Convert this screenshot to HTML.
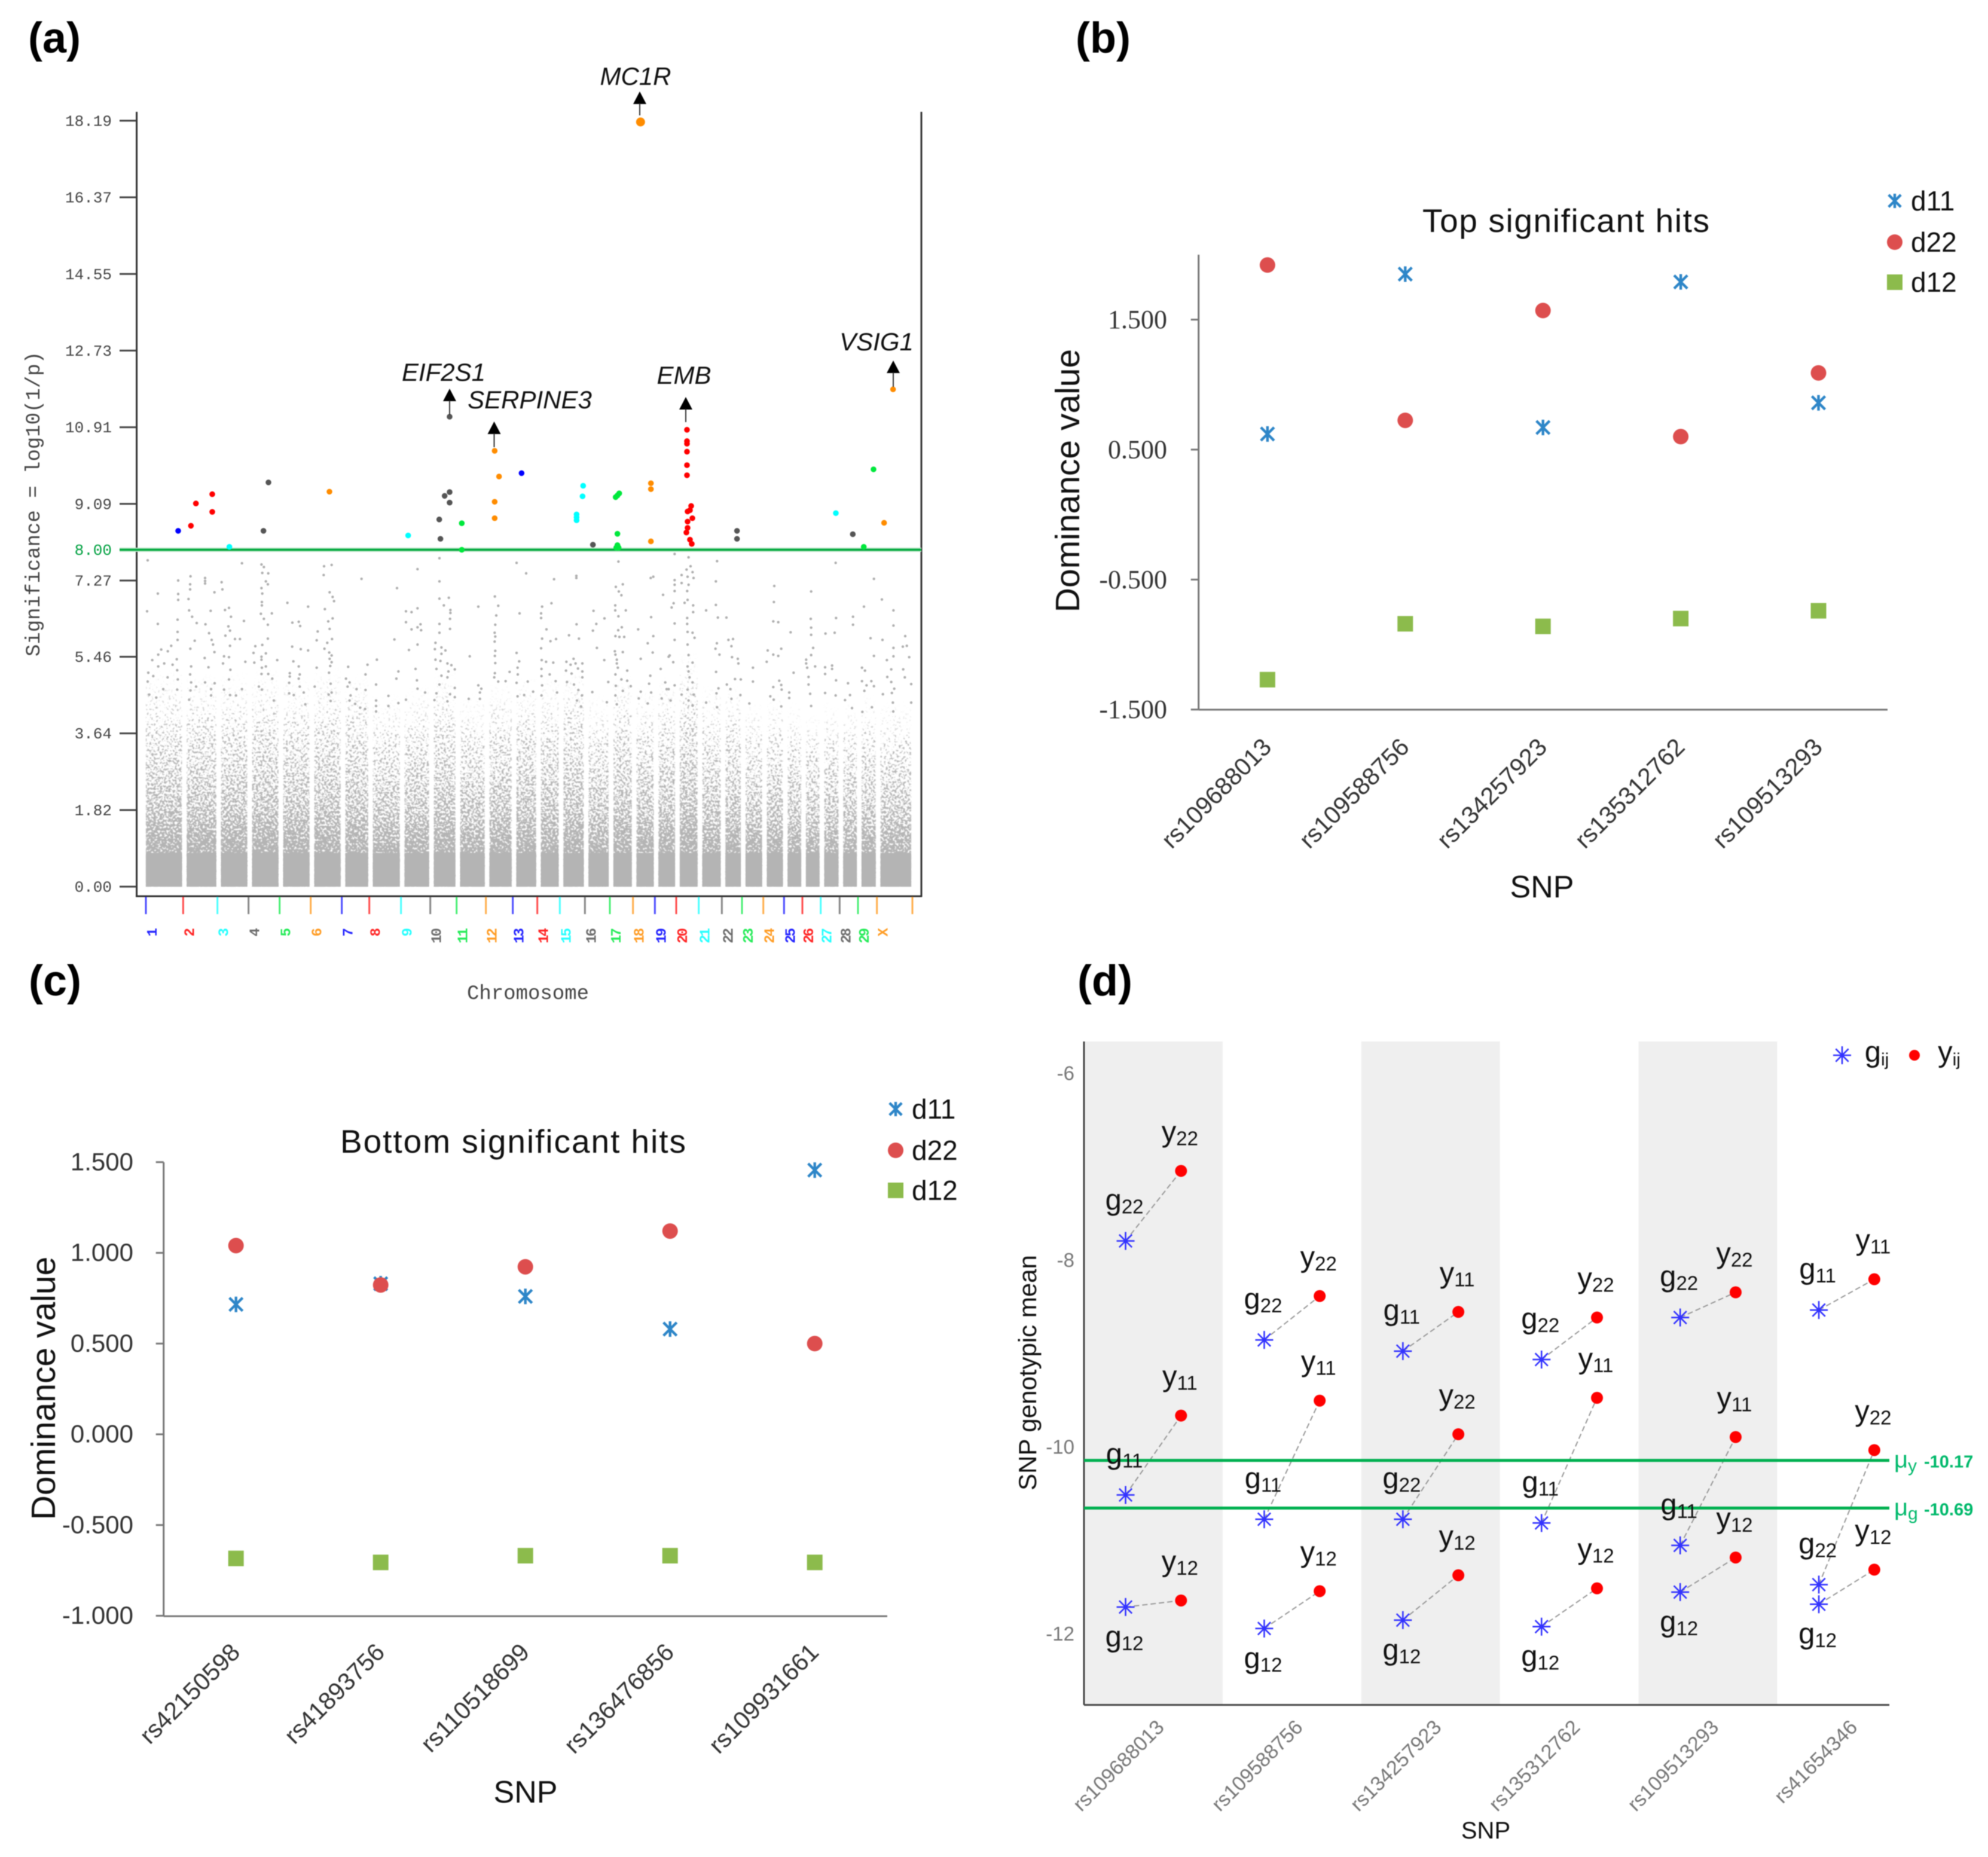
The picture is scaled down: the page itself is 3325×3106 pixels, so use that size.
<!DOCTYPE html>
<html lang="en">
<head>
<meta charset="utf-8">
<title>GWAS significance and dominance panels</title>
<style>
html,body{margin:0;padding:0;background:#fff}
svg{display:block;filter:blur(0.7px)}
text{font-family:"Liberation Sans",sans-serif}
.mono{font-family:"Liberation Mono",monospace}
.panel{font-weight:bold;font-size:72px;fill:#000}
.gene{font-style:italic;font-size:42px;fill:#111}
</style>
</head>
<body>
<svg id="figure" xmlns="http://www.w3.org/2000/svg" width="3325" height="3106" viewBox="0 0 3325 3106">
  <defs>
    <linearGradient id="densityGrad" x1="0" y1="0" x2="0" y2="1">
      <stop offset="0" stop-color="#000" stop-opacity="0"/>
      <stop offset="0.04" stop-color="#000" stop-opacity="0.03"/>
      <stop offset="0.17" stop-color="#000" stop-opacity="0.14"/>
      <stop offset="0.3" stop-color="#000" stop-opacity="0.32"/>
      <stop offset="0.65" stop-color="#000" stop-opacity="0.63"/>
      <stop offset="0.81" stop-color="#000" stop-opacity="0.92"/>
      <stop offset="0.9" stop-color="#000" stop-opacity="1"/>
      <stop offset="1" stop-color="#000" stop-opacity="1"/>
    </linearGradient>
    <filter id="speckle" filterUnits="userSpaceOnUse" x="228" y="900" width="1320" height="600" color-interpolation-filters="sRGB">
      <feTurbulence type="fractalNoise" baseFrequency="0.28" numOctaves="2" seed="7" result="t"/>
      <feColorMatrix in="t" type="matrix" values="0 0 0 0 0  0 0 0 0 0  0 0 0 0 0  2.6 0 0 0 -0.8" result="n"/>
      <feComposite in="SourceAlpha" in2="n" operator="arithmetic" k1="0" k2="5" k3="5" k4="-5" result="m"/>
      <feFlood flood-color="#b4b4b4" result="c"/>
      <feComposite in="c" in2="m" operator="in" result="s"/>
      <feGaussianBlur in="s" stdDeviation="0.4"/>
    </filter>
  </defs>
  <text class="panel" x="47" y="88">(a)</text>
  <text class="panel" x="1799" y="88">(b)</text>
  <text class="panel" x="48" y="1665">(c)</text>
  <text class="panel" x="1802" y="1665">(d)</text>
  <g id="panelA"></g>
  <g id="panelB"></g>
  <g id="panelC"></g>
  <g id="panelD"></g>
</svg>
<script>
/* ---------- panel (a) data ---------- */
const chromNames = ['1','2','3','4','5','6','7','8','9','10','11','12','13','14','15','16','17','18','19','20','21','22','23','24','25','26','27','28','29','X'];
const chromSizes = [187,172,156,156,156,156,138,159,147,132,147,135,123,113,126,125,116,110,107,113,116,101,107,104,92,92,95,92,95,178];
const chromDensityTop = [5.2,5.1,5.1,5.2,5.0,5.2,5.1,4.6,4.8,5.2,4.6,4.9,5.0,5.0,5.2,4.6,5.1,4.8,5.0,5.6,4.8,4.8,4.4,4.6,4.4,4.2,4.4,4.4,4.6,4.4];
const chromColors = ['#0000ff','#ff0000','#00ffff','#555555','#00e83c','#ff8c00'];
const significanceTicks = [0,1.82,3.64,5.46,7.27,8,9.09,10.91,12.73,14.55,16.37,18.19];
const genomeWideThreshold = 8;
const significantHits = [[210,8.45],[274,8.57],[299,9.10],[381,9.32],[381,8.90],[467,8.07],[663,9.60],[638,8.45],[969,9.38],[1364,8.34],[1520,8.72],[1526,8.26],[1547,9.28],[1572,9.37],[1572,9.12],[1572,11.16],[1633,8.63],[1633,8.00],[1798,10.35],[1820,9.74],[1798,9.14],[1798,8.75],[1933,9.82],[2242,9.52],[2239,9.27],[2209,8.84],[2209,8.77],[2209,8.70],[2291,8.12],[2405,9.25],[2414,9.29],[2423,9.34],[2414,8.38],[2414,8.11],[2408,8.05],[2420,8.05],[2582,9.58],[2582,9.44],[2582,8.20],[2763,10.85],[2763,10.58],[2763,10.52],[2763,10.33],[2763,10.01],[2763,9.77],[2784,9.04],[2766,8.91],[2778,8.94],[2766,8.67],[2790,8.75],[2760,8.41],[2766,8.52],[2778,8.24],[2787,8.14],[3014,8.45],[3014,8.26],[3510,8.87],[3595,8.37],[3699,9.91],[3650,8.07],[3752,8.64],[3797,11.81]];
const topHit = [2530,18.16];
const backgroundSnps = [[57,7.75],[108,6.96],[54,6.54],[108,6.24],[210,7.27],[210,6.95],[210,6.81],[207,6.34],[207,6.05],[207,5.86],[272,7.37],[270,7.18],[270,7.06],[262,6.83],[265,6.56],[280,6.41],[303,6.26],[293,5.84],[271,5.65],[345,7.33],[345,7.26],[345,7.20],[347,6.23],[365,6.02],[373,6.55],[392,6.99],[428,7.23],[432,7.06],[378,5.86],[385,5.75],[392,5.57],[343,5.43],[362,5.21],[275,5.23],[445,6.57],[465,6.62],[475,6.41],[462,6.18],[470,6.08],[447,5.96],[470,5.72],[495,5.88],[520,5.88],[530,7.68],[540,6.31],[440,5.47],[465,5.45],[435,5.30],[472,5.15],[465,4.92],[547,5.34],[628,7.65],[640,7.59],[632,7.45],[662,7.44],[650,7.25],[660,7.18],[628,7.09],[632,6.96],[630,6.76],[630,6.68],[625,6.48],[640,6.36],[680,6.49],[660,6.22],[660,5.89],[597,5.71],[632,5.74],[588,5.55],[650,5.54],[628,5.46],[628,5.39],[592,5.32],[630,5.20],[650,5.23],[628,5.05],[662,5.05],[682,4.94],[707,5.38],[758,6.74],[862,6.65],[783,6.27],[815,6.29],[822,6.19],[782,5.70],[825,5.64],[862,5.61],[788,5.35],[815,5.23],[770,5.07],[770,4.99],[820,5.04],[815,4.94],[767,4.84],[820,4.75],[767,4.59],[790,4.55],[840,4.61],[848,4.33],[942,7.61],[980,7.64],[940,7.40],[970,6.99],[985,6.88],[992,6.78],[946,6.59],[985,6.37],[963,6.30],[970,6.12],[910,6.06],[905,5.85],[958,5.79],[982,5.88],[944,5.65],[968,5.56],[980,5.49],[970,5.41],[980,5.33],[973,5.24],[905,5.20],[967,5.08],[975,4.82],[895,4.75],[980,4.61],[965,4.56],[975,4.41],[1130,7.31],[1063,5.22],[1160,5.27],[1150,5.04],[1052,4.94],[1070,4.85],[1060,4.75],[1105,4.69],[1150,4.67],[1075,4.54],[1070,4.42],[1098,4.34],[1123,4.25],[1148,4.22],[1308,7.09],[1295,5.87],[1207,5.39],[1315,5.11],[1305,4.94],[1203,4.80],[1265,4.53],[1315,4.36],[1203,4.42],[1203,4.29],[1203,4.16],[1265,4.29],[60,5.08],[85,5.00],[110,5.23],[140,5.30],[80,5.38],[110,5.51],[125,5.63],[158,5.59],[175,5.72],[182,5.27],[205,5.14],[203,5.40],[57,4.87],[157,4.97],[208,4.92],[135,4.69],[205,4.68],[65,4.56],[100,4.49],[270,5.04],[275,4.85],[272,4.66],[345,4.85],[393,4.83],[375,4.69],[300,4.75],[440,4.68],[530,4.69],[470,4.55],[500,4.54],[375,4.54],[265,4.44],[615,4.75],[630,4.68],[690,4.42],
[1521,7.80],[1411,7.54],[1521,7.25],[1521,6.84],[1568,6.86],[1543,6.68],[1411,6.61],[1353,6.54],[1381,6.52],[1576,6.57],[1576,6.50],[1353,6.28],[1574,6.36],[1521,6.24],[1426,6.23],[1411,6.16],[1381,6.11],[1429,6.09],[1574,6.12],[1521,6.03],[1411,5.75],[1368,5.62],[1501,5.79],[1498,5.64],[1531,5.68],[1551,5.61],[1531,5.53],[1501,5.39],[1526,5.36],[1561,5.30],[1581,5.26],[1401,5.17],[1506,5.17],[1598,5.16],[1566,5.11],[1531,5.01],[1561,4.97],[1408,4.90],[1521,4.80],[1598,4.72],[1411,4.70],[1449,4.61],[1506,4.59],[1574,4.57],[1598,4.50],[1353,4.44],[1496,4.43],[1561,4.40],[1716,6.65],[1799,6.89],[1816,6.67],[1806,6.44],[1801,6.22],[1798,6.03],[1801,5.94],[1798,5.82],[1801,5.60],[1799,5.48],[1801,5.31],[1799,5.07],[1796,4.97],[1816,4.87],[1853,4.88],[1873,5.10],[1673,5.47],[1716,4.78],[1731,4.70],[1724,4.61],[1724,4.46],[1668,4.46],[1908,7.69],[1956,7.44],[2096,7.30],[2208,7.38],[2208,7.33],[1923,6.49],[2083,6.73],[2036,6.65],[2031,6.49],[2031,6.38],[2058,6.11],[2036,5.89],[2078,5.83],[2106,5.88],[2031,5.66],[1908,5.55],[1921,5.35],[1913,5.20],[1914,5.04],[1908,4.84],[1964,4.87],[2034,5.38],[2056,5.34],[2092,5.32],[2033,5.17],[2033,5.00],[2074,5.04],[2104,4.88],[2036,4.78],[2033,4.54],[2111,4.61],[1991,4.63],[1913,4.52],[1946,4.55],[2209,6.23],[2171,5.97],[2221,5.89],[2294,6.55],[2308,6.24],[2291,6.08],[2349,6.37],[2311,5.67],[2348,5.38],[2194,5.41],[2158,5.34],[2179,5.27],[2204,5.30],[2238,5.30],[2216,5.18],[2156,5.13],[2184,5.06],[2238,5.11],[2238,4.97],[2161,4.86],[2196,4.80],[2218,4.67],[2236,4.54],[2211,4.42],[2231,4.28],[2368,4.86],[2288,4.62],[2361,4.38],[2419,7.72],[2441,7.18],[2406,7.12],[2421,7.01],[2434,6.92],[2403,6.68],[2403,6.56],[2456,6.56],[2419,6.42],[2436,6.16],[2418,6.09],[2404,5.95],[2424,5.93],[2448,5.93],[2401,5.59],[2441,5.57],[2404,5.51],[2411,5.39],[2411,5.30],[2416,5.20],[2463,5.13],[2404,5.04],[2434,4.92],[2463,4.89],[2481,4.76],[2406,4.77],[2441,4.65],[2404,4.54],[2411,4.33],[2581,7.33],[2594,7.36],[2643,6.93],[2583,6.40],[2518,6.11],[2594,5.95],[2566,5.78],[2591,5.56],[2531,5.41],[2671,5.46],[2631,5.17],[2579,5.01],[2573,4.82],[2654,4.85],[2531,4.63],[2583,4.61],[2661,4.69],[2636,4.47],[2521,4.47],[2566,4.35],
[2701,7.90],[2738,7.98],[2771,7.82],[2781,7.61],[2761,7.53],[2736,7.40],[2791,7.47],[2766,7.36],[2796,7.33],[2736,7.21],[2771,7.17],[2701,7.28],[2701,7.17],[2701,7.02],[2764,7.02],[2766,6.81],[2751,6.74],[2794,6.68],[2794,6.52],[2696,6.73],[2686,6.63],[2764,6.38],[2764,6.24],[2701,6.25],[2766,6.05],[2791,6.03],[2801,5.91],[2701,5.86],[2766,5.75],[2771,5.50],[2676,5.49],[2694,5.33],[2766,5.23],[2791,5.32],[2771,5.11],[2776,4.97],[2701,4.78],[2671,4.69],[2791,4.85],[2766,4.68],[2796,4.56],[2736,4.56],[2771,4.42],[2791,4.30],[2681,4.42],[2914,7.73],[2908,7.25],[2908,6.69],[2859,6.56],[2918,6.39],[2961,6.39],[2971,5.86],[2994,5.88],[2913,5.78],[2906,5.65],[2986,5.71],[2926,5.51],[2989,5.45],[3018,5.41],[3021,5.30],[2909,5.10],[3004,4.93],[3033,4.92],[2963,4.80],[2981,4.69],[2921,4.71],[2911,4.59],[3031,4.55],[2986,4.46],[2859,4.37],[2914,4.26],[3201,7.14],[3199,6.76],[3196,6.30],[3221,6.28],[3283,6.04],[3168,5.61],[3236,5.65],[3196,5.51],[3221,5.48],[3163,5.34],[3094,5.20],[3094,4.87],[3298,5.08],[3226,4.89],[3236,4.79],[3238,4.68],[3196,4.74],[3276,4.61],[3276,4.48],[3181,4.52],[3198,4.44],[3076,4.35],[3236,4.28],[3386,7.01],[3509,7.69],[3384,6.36],[3386,6.15],[3386,5.98],[3396,5.67],[3386,5.50],[3361,5.39],[3361,5.30],[3366,5.20],[3406,5.23],[3456,5.21],[3456,5.05],[3491,5.25],[3491,5.17],[3373,4.98],[3373,4.80],[3381,4.58],[3456,4.60],[3511,6.38],[3504,6.03],[3458,6.01],[3511,4.90],[3509,4.54],[3571,4.83],[3581,4.55],[3556,4.43],[3591,4.24],[3386,4.29],[3701,7.31],[3741,6.82],[3651,6.65],[3799,6.56],[3596,6.41],[3596,6.22],[3799,6.20],[3684,5.90],[3744,5.86],[3858,5.95],[3799,5.67],[3846,5.70],[3866,5.72],[3701,5.48],[3799,5.47],[3878,5.45],[3766,5.38],[3641,5.20],[3656,5.13],[3788,5.16],[3848,5.16],[3856,4.97],[3768,4.98],[3641,4.88],[3688,4.88],[3664,4.78],[3701,4.76],[3788,4.86],[3888,4.81],[3653,4.65],[3803,4.70],[3746,4.57],[3791,4.60],[3796,4.37],[3888,4.37],[3691,4.26],[3798,4.16],[3643,4.15]];
const geneNames = ['MC1R','EIF2S1','SERPINE3','EMB','VSIG1'];

/* ---------- panel (b) data ---------- */
const topSnps = ['rs109688013','rs109588756','rs134257923','rs135312762','rs109513293'];
const topD11 = [0.62,1.85,0.67,1.79,0.86];
const topD22 = [1.92,0.725,1.57,0.60,1.09];
const topD12 = [-1.27,-0.84,-0.86,-0.80,-0.74];
const topTicks = [-1.5,-0.5,0.5,1.5];

/* ---------- panel (c) data ---------- */
const bottomSnps = ['rs42150598','rs41893756','rs110518699','rs136476856','rs109931661'];
const bottomD11 = [0.716,0.83,0.76,0.58,1.456];
const bottomD22 = [1.04,0.823,0.923,1.12,0.50];
const bottomD12 = [-0.684,-0.706,-0.669,-0.669,-0.706];
const bottomTicks = [-1,-0.5,0,0.5,1,1.5];

/* ---------- panel (d) data ---------- */
const meanSnps = ['rs109688013','rs109588756','rs134257923','rs135312762','rs109513293','rs41654346'];
const meanTicks = [-6,-8,-10,-12];
const g11 = [-10.51,-10.77,-8.97,-10.81,-11.05,-8.53];
const g22 = [-7.79,-8.85,-10.77,-9.06,-8.61,-11.47];
const g12 = [-11.71,-11.94,-11.85,-11.92,-11.55,-11.68];
const y11 = [-9.66,-9.50,-8.55,-9.47,-9.89,-8.20];
const y22 = [-7.04,-8.38,-9.86,-8.61,-8.34,-10.03];
const y12 = [-11.64,-11.54,-11.37,-11.51,-11.18,-11.31];
const meanLines = [-10.14,-10.65];
const meanLineLabels = ['-10.17','-10.69'];
const meanLineSymbols = ['y','g'];

/* ---------- helpers ---------- */
const NS = 'http://www.w3.org/2000/svg';
function mk(tag, attrs, parent) {
  const el = document.createElementNS(NS, tag);
  for (const k in attrs) el.setAttribute(k, attrs[k]);
  parent.appendChild(el);
  return el;
}
function mkText(str, attrs, parent) {
  const el = mk('text', attrs, parent);
  el.textContent = str;
  return el;
}

/* ---------- panel (a) ---------- */
(function () {
  const root = document.getElementById('panelA');
  const xA = g => 228 + g / 3;
  const yA = v => 1483 - 70.43 * v;
  const chromStarts = [];
  let cum = 48;
  chromSizes.forEach(s => { chromStarts.push(cum); cum += s; });
  chromStarts.push(cum);
  const colorAt = g => {
    let i = 0;
    while (i < chromSizes.length - 1 && g >= chromStarts[i + 1]) i++;
    return chromColors[i % chromColors.length];
  };

  const speckled = mk('g', { filter: 'url(#speckle)' }, root);
  
  
  chromSizes.forEach((s, i) => {
    const x0 = xA(chromStarts[i] + (i === 0 ? 0 : 18));
    const x1 = xA(chromStarts[i + 1] - 6);
    const r = mk('rect', { x: x0, y: yA(chromDensityTop[i]), width: x1 - x0, height: yA(0) - yA(chromDensityTop[i]), fill: 'url(#densityGrad)' }, speckled);
    
    
    const b = mk('rect', { x: x0, y: yA(0.8), width: x1 - x0, height: yA(0) - yA(0.8), fill: '#b4b4b4' }, root);
    
    
  });

  backgroundSnps.forEach(p => {
    const c = mk('circle', { cx: xA(p[0]), cy: yA(p[1]), r: 2.2, fill: '#b0b0b0' }, root);
    
    
  });

  const left = mk('line', { x1: 228.6, y1: 187, x2: 228.6, y2: 1500, stroke: '#333', 'stroke-width': 3 }, root);
  
  
  const right = mk('line', { x1: 1541, y1: 187, x2: 1541, y2: 1500, stroke: '#333', 'stroke-width': 3 }, root);
  
  
  const bottom = mk('line', { x1: 227, y1: 1499, x2: 1542, y2: 1499, stroke: '#333', 'stroke-width': 3 }, root);
  
  

  significanceTicks.forEach(v => {
    const isT = v === genomeWideThreshold;
    if (!isT) {
      const t = mk('line', { x1: 200, y1: yA(v), x2: 228, y2: yA(v), stroke: '#444', 'stroke-width': 3 }, root);
      
      
    }
    const l = mkText(v.toFixed(2), { class: 'mono', x: 187, y: yA(v), dy: '0.33em', 'text-anchor': 'end', 'font-size': 26, fill: isT ? '#00a040' : '#444' }, root);
    
    
  });

  const halo = mk('line', { x1: 200, y1: yA(genomeWideThreshold), x2: 1541, y2: yA(genomeWideThreshold), stroke: '#b8e4c4', 'stroke-width': 7 }, root);
  
  
  const thr = mk('line', { x1: 200, y1: yA(genomeWideThreshold), x2: 1541, y2: yA(genomeWideThreshold), stroke: '#00a83c', 'stroke-width': 3.5 }, root);
  
  

  significantHits.forEach(p => {
    const c = mk('circle', { cx: xA(p[0]), cy: yA(p[1]), r: 4.8, fill: colorAt(p[0]) }, root);
    
    
  });
  const top = mk('circle', { cx: xA(topHit[0]), cy: yA(topHit[1]), r: 7.5, fill: colorAt(topHit[0]) }, root);
  
  

  chromNames.forEach((n, i) => {
    const col = chromColors[i % chromColors.length];
    const x = xA(chromStarts[i]);
    const t = mk('line', { x1: x, y1: 1500, x2: x, y2: 1529, stroke: col, 'stroke-width': 3, opacity: 0.7 }, root);
    
    
    const l = mkText(n, { class: 'mono', x: 0, y: 0, transform: 'translate(' + (x + 18) + ',1555) rotate(-90)', 'text-anchor': 'end', 'font-size': 24, 'font-weight': 'bold', 'letter-spacing': '-3', fill: col, opacity: 0.85 }, root);
    
    
  });
  const endTick = mk('line', { x1: xA(chromStarts[30]), y1: 1500, x2: xA(chromStarts[30]), y2: 1529, stroke: '#ff8c00', 'stroke-width': 3, opacity: 0.7 }, root);
  
  

  const xt = mkText('Chromosome', { class: 'mono', x: 883, y: 1671, 'text-anchor': 'middle', 'font-size': 34, fill: '#444' }, root);
  
  
  const yt = mkText('Significance = log10(1/p)', { class: 'mono', x: 0, y: 0, transform: 'translate(66,843) rotate(-90)', 'text-anchor': 'middle', 'font-size': 34, fill: '#444' }, root);
  
  

  const annX = [1063, 742, 886, 1144, 1466];
  const annY = [142, 637, 683, 642, 586];
  const arrowX = [1070, 752, 826.5, 1147, 1494];
  const arrowTop = [153, 650, 705, 664, 603];
  const arrowEnd = [193, 694, 748, 706, 647];
  geneNames.forEach((g, i) => {
    const t = mkText(g, { class: 'gene', x: annX[i], y: annY[i], 'text-anchor': 'middle' }, root);
    
    
    const a = mk('path', { d: 'M' + arrowX[i] + ' ' + arrowTop[i] + 'l11 21h-22z', fill: '#000' }, root);
    
    
    const s = mk('line', { x1: arrowX[i], y1: arrowTop[i] + 20, x2: arrowX[i], y2: arrowEnd[i], stroke: '#333', 'stroke-width': 2 }, root);
    
    
  });
})();

/* ---------- panels (b) and (c) ---------- */
function drawStar(parent, cx, cy, r) {
  const d = r * 0.85;
  const p = mk('path', { d: 'M' + (cx - d) + ' ' + (cy - d) + 'L' + (cx + d) + ' ' + (cy + d) + 'M' + (cx + d) + ' ' + (cy - d) + 'L' + (cx - d) + ' ' + (cy + d) + 'M' + cx + ' ' + (cy - r) + 'V' + (cy + r), stroke: '#2e86c8', 'stroke-width': 4.4, fill: 'none' }, parent);
  return p;
}
function drawDominance(root, o) {
  const yS = v => o.y0 - v * o.pxPerUnit;
  const xS = i => o.xLeft + o.catW * (i + 0.5);
  const ya = mk('line', { x1: o.xLeft, y1: o.yTop, x2: o.xLeft, y2: o.yBottom, stroke: '#777', 'stroke-width': 3 }, root);
  
  
  const xa = mk('line', { x1: o.xLeft, y1: o.yBottom, x2: o.xRight, y2: o.yBottom, stroke: '#777', 'stroke-width': 3 }, root);
  
  
  o.ticks.forEach(v => {
    const t = mk('line', { x1: o.xLeft - 13, y1: yS(v), x2: o.xLeft, y2: yS(v), stroke: '#777', 'stroke-width': 3 }, root);
    
    
    const l = mkText(v.toFixed(3), { x: o.tickLabelX, y: yS(v) - 1, dy: '0.35em', 'text-anchor': 'end', 'font-size': o.tickFont, fill: '#333', style: 'font-family:' + o.tickFamily }, root);
    
    
  });
  o.snps.forEach((s, i) => {
    const bx = xS(i) + 9;
    const l = mkText(s, { x: 0, y: 0, transform: 'translate(' + bx + ',' + o.catLabelY + ') rotate(-45)', 'text-anchor': 'end', 'font-size': 41, fill: '#333' }, root);
    
    
    const c = drawStar(root, xS(i), yS(o.d11[i]), 13);
    
    
    const r = mk('circle', { cx: xS(i), cy: yS(o.d22[i]), r: 13, fill: '#dd4e4e' }, root);
    
    
    const q = mk('rect', { x: xS(i) - 13, y: yS(o.d12[i]) - 13, width: 26, height: 26, fill: '#8cbb4c' }, root);
    
    
  });
  const title = mkText(o.title, { x: o.titleX, y: o.titleY, 'text-anchor': 'middle', 'font-size': 55, textLength: o.titleLen, fill: '#111' }, root);
  
  
  const yt = mkText('Dominance value', { x: 0, y: 0, transform: 'translate(' + o.yTitleX + ',' + o.yTitleY + ') rotate(-90)', 'text-anchor': 'middle', 'font-size': 57, fill: '#111' }, root);
  
  
  const xt = mkText('SNP', { x: o.xTitleX, y: o.xTitleY, 'text-anchor': 'middle', 'font-size': 52, fill: '#111' }, root);
  
  
  const s1 = drawStar(root, o.legendX, o.legendY[0], 12);
  
  
  const s2 = mk('circle', { cx: o.legendX, cy: o.legendY[1], r: 13, fill: '#dd4e4e' }, root);
  
  
  const s3 = mk('rect', { x: o.legendX - 13, y: o.legendY[2] - 13, width: 26, height: 26, fill: '#8cbb4c' }, root);
  
  
  ['d11', 'd22', 'd12'].forEach((n, i) => {
    const t = mkText(n, { x: o.legendX + 27, y: o.legendY[i] + 16, 'font-size': 46, fill: '#111' }, root);
    
    
  });
}
drawDominance(document.getElementById('panelB'), {
  snps: topSnps, d11: topD11, d22: topD22, d12: topD12, ticks: topTicks,
  y0: 860.7, pxPerUnit: 217.4, xLeft: 2004.7, xRight: 3157, catW: 230.4, yTop: 426, yBottom: 1187,
  tickLabelX: 1952, tickFont: 44, tickFamily: '"Liberation Serif",serif', catLabelY: 1252,
  title: 'Top significant hits', titleLen: 480, titleX: 2619, titleY: 388, yTitleX: 1805, yTitleY: 804, xTitleX: 2579, xTitleY: 1501,
  legendX: 3169, legendY: [336, 405, 472]
});
drawDominance(document.getElementById('panelC'), {
  snps: bottomSnps, d11: bottomD11, d22: bottomD22, d12: bottomD12, ticks: bottomTicks,
  y0: 2399, pxPerUnit: 303.5, xLeft: 273.7, xRight: 1484, catW: 242, yTop: 1944, yBottom: 2703.3,
  tickLabelX: 223, tickFont: 42, tickFamily: '"Liberation Sans",sans-serif', catLabelY: 2766,
  title: 'Bottom significant hits', titleLen: 578, titleX: 858, titleY: 1928, yTitleX: 92, yTitleY: 2322, xTitleX: 879, xTitleY: 3015,
  legendX: 1498, legendY: [1855, 1924, 1991]
});

/* ---------- panel (d) ---------- */
(function () {
  const root = document.getElementById('panelD');
  const catW = 231.9, xL = 1813, xR = 3160, yT = 1742, yB = 2851.6;
  const yM = v => 1796 + (-6 - v) * 156.2;
  const xG = i => xL + catW * (i + 0.3);
  const xY = i => xL + catW * (i + 0.7);
  meanSnps.forEach((s, i) => {
    if (i % 2 === 0 && i < 6) {
      const b = mk('rect', { x: xL + catW * i, y: yT, width: catW, height: yB - yT, fill: '#efefef' }, root);
      
      
    }
  });
  const ya = mk('line', { x1: xL, y1: yT, x2: xL, y2: yB, stroke: '#444', 'stroke-width': 3 }, root);
  
  
  const xa = mk('line', { x1: xL, y1: yB, x2: xR, y2: yB, stroke: '#444', 'stroke-width': 3 }, root);
  
  
  meanTicks.forEach(v => {
    const t = mkText(String(v), { x: 1797, y: yM(v) - 1, dy: '0.35em', 'text-anchor': 'end', 'font-size': 33, fill: '#777' }, root);
    
    
  });
  meanSnps.forEach((s, i) => {
    const bx = xL + catW * (i + 0.5) + 20;
    const t = mkText(s, { x: 0, y: 0, transform: 'translate(' + bx + ',2891) rotate(-45)', 'text-anchor': 'end', 'font-size': 34, fill: '#777' }, root);
    
    
  });

  function star(cx, cy, r) {
    const d = r * 0.71;
    return mk('path', { d: 'M' + (cx - r) + ' ' + cy + 'H' + (cx + r) + 'M' + cx + ' ' + (cy - r) + 'V' + (cy + r) + 'M' + (cx - d) + ' ' + (cy - d) + 'L' + (cx + d) + ' ' + (cy + d) + 'M' + (cx + d) + ' ' + (cy - d) + 'L' + (cx - d) + ' ' + (cy + d), stroke: '#3333ff', 'stroke-width': 2.6, fill: 'none' }, root);
  }
  function subLabel(main, sub, x, y, size, subSize) {
    const t = mk('text', { x: x, y: y, 'text-anchor': 'middle', 'font-size': size, fill: '#111' }, root);
    const a = mk('tspan', {}, t);
    a.textContent = main;
    const b = mk('tspan', { 'font-size': subSize, dy: Math.round(size * 0.12) }, t);
    b.textContent = sub;
    return t;
  }
  const groups = [
    { g: g11, y: y11, sub: '11' },
    { g: g22, y: y22, sub: '22' },
    { g: g12, y: y12, sub: '12' }
  ];
  groups.forEach(grp => {
    meanSnps.forEach((s, i) => {
      const gy = yM(grp.g[i]), yy = yM(grp.y[i]);
      const c = mk('line', { x1: xG(i), y1: gy, x2: xY(i), y2: yy, stroke: '#999', 'stroke-width': 2, 'stroke-dasharray': '9 5' }, root);
      
      
    });
  });
  meanLines.forEach((v, i) => {
    const l = mk('line', { x1: xL, y1: yM(v), x2: xR, y2: yM(v), stroke: '#00b050', 'stroke-width': 5 }, root);
    
    
    const t = mk('text', { x: 3168, y: yM(v) + 12, 'font-size': 40, fill: '#00b96b' }, root);
    
    
    const a = mk('tspan', {}, t);
    a.textContent = '\u03bc';
    const b = mk('tspan', { 'font-size': 30, dy: 7 }, t);
    b.textContent = meanLineSymbols[i];
    const c = mk('tspan', { 'font-size': 29, 'font-weight': 'bold', x: 3218, dy: -7 }, t);
    c.textContent = meanLineLabels[i];
  });
  groups.forEach(grp => {
    meanSnps.forEach((s, i) => {
      const gy = yM(grp.g[i]), yy = yM(grp.y[i]);
      const p = star(xG(i), gy, 15);
      
      
      const d = mk('circle', { cx: xY(i), cy: yy, r: 10, fill: '#f00' }, root);
      
      
      const gLabelY = grp.sub === '12' ? gy + 66 : gy - 52;
      const gl = subLabel('g', grp.sub, xG(i) - 2, gLabelY, 49, 33);
      
      
      const yl = subLabel('y', grp.sub, xY(i) - 2, yy - 49, 49, 33);
      
      
    });
  });
  const xt = mkText('SNP', { x: 2485, y: 3075, 'text-anchor': 'middle', 'font-size': 40, fill: '#111' }, root);
  
  
  const yt = mkText('SNP genotypic mean', { x: 0, y: 0, transform: 'translate(1733,2296) rotate(-90)', 'text-anchor': 'middle', 'font-size': 42, fill: '#111' }, root);
  
  
  const ls = star(3081, 1765, 15);
  
  
  const lg = subLabel('g', 'ij', 3139, 1776, 49, 30);
  
  
  const ld = mk('circle', { cx: 3202, cy: 1765, r: 9, fill: '#f00' }, root);
  
  
  const ly = subLabel('y', 'ij', 3260, 1776, 49, 30);
  
  
})();
</script>
</body>
</html>
